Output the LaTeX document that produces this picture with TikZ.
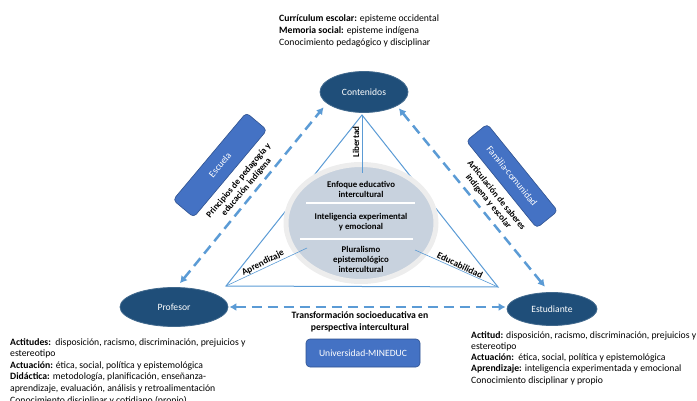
\documentclass[tikz,border=0pt]{standalone}
\usepackage{fontspec}
\setmainfont{Carlito}
\usetikzlibrary{shapes.geometric,arrows.meta}
\definecolor{azulosc}{HTML}{1F4E79}
\definecolor{azulclaro}{HTML}{5B9BD5}
\definecolor{azulcaja}{HTML}{4472C4}
\definecolor{bordecaja}{HTML}{2F528F}
\definecolor{grisazul}{HTML}{C8D2DE}

\begin{document}
\begin{tikzpicture}[x=1pt,y=-1pt,
  polo/.style={ellipse,fill=azulosc,draw=azulosc!85!white,line width=0.8pt,text=white,font=\fontsize{9.6}{11}\selectfont},
  caja/.style={rectangle,rounded corners=4pt,fill=azulcaja,draw=bordecaja,line width=0.6pt,text=white,font=\fontsize{9.6}{11}\selectfont},
  flecha/.style={azulclaro,line width=2.5pt,dash pattern=on 10pt off 6pt,{Latex[length=7pt,width=8pt]}-{Latex[length=7pt,width=8pt]}},
  lado/.style={azulclaro,line width=1pt},
  rayo/.style={azulclaro,line width=0.6pt},
  negrita/.style={font=\fontsize{8.8}{10}\selectfont\bfseries,align=center,inner sep=0pt},
  rotulo/.style={font=\fontsize{9}{10.2}\selectfont\bfseries,align=center,inner sep=0pt},
  lista/.style={align=left,anchor=north west,inner sep=0pt}]
\useasboundingbox (0,0) rectangle (697,401);
\clip (0,0) rectangle (697,401);
%Triangulo
\coordinate (vA) at (362,115);
\coordinate (vB) at (226,286);
\coordinate (vC) at (498,287);
\draw[lado] (vA) -- (vB) -- (vC) -- cycle;
%Elipse central
\node[ellipse,fill=grisazul,draw=gray!14,line width=5pt,minimum width=150,minimum height=117] (enf) at (361,223) {};
\draw[white,line width=2pt] (306,203) -- (415,203);
\draw[white,line width=2pt] (300,239) -- (413,239);
\node[negrita] (t1) at (361,189) {Enfoque educativo\\intercultural};
\node[negrita] (t2) at (361,222) {Inteligencia experimental\\y emocional};
\node[negrita] (t3) at (361,259) {Pluralismo\\epistemológico\\intercultural};
\coordinate (pLib) at (362,173);
\coordinate (pApr) at (307,248);
\coordinate (pEdu) at (415,250);
\draw[rayo] (vA) -- (pLib);
\draw[rayo] (vB) -- (pApr);
\draw[rayo] (pEdu) -- (vC);
\node[negrita,font=\fontsize{9}{10}\selectfont\bfseries,rotate=90] (lib) at (356,142) {Libertad};
\node[negrita,font=\fontsize{9.3}{10}\selectfont\bfseries,rotate=27] (apr) at (263,263) {Aprendizaje};
\node[negrita,font=\fontsize{9.3}{10}\selectfont\bfseries,rotate=-26] (edu) at (460,265) {Educabilidad};
%Polos
\node[polo,minimum width=88,minimum height=41] (cont) at (364,92) {Contenidos};
\node[polo,minimum width=108,minimum height=39] (prof) at (174,307) {Profesor};
\node[polo,minimum width=90,minimum height=33] (est) at (552,309) {Estudiante};
\draw[flecha,shorten <=5pt,shorten >=5pt] (prof.82) -- (cont.197);
\draw[flecha,shorten <=3pt,shorten >=7pt] (cont.337) -- (est.99);
\draw[flecha,shorten <=1pt,shorten >=1pt] (prof.east) -- (est.west |- prof.east);
%Cajas
\node[caja,rotate=50,minimum width=114,minimum height=27] (esc) at (220,165) {Escuela};
\node[caja,rotate=-51,minimum width=112,minimum height=27] (fam) at (512,176) {Familia-comunidad};
\node[caja,minimum width=114,minimum height=28] (uni) at (363,353) {Universidad-MINEDUC};
\node[rotulo,rotate=50] (princ) at (242.6,184) {Principios de pedagogía y\\educación indígena};
\node[rotulo,rotate=-51] (artic) at (492.3,198.5) {Articulación de saberes\\indígena y escolar};
\node[rotulo,font=\fontsize{9.7}{12}\selectfont\bfseries] (trans) at (360,322) {Transformación socioeducativa en\\perspectiva intercultural};
%Text
\node[lista,font=\fontsize{9.7}{12}\selectfont] (curr) at (279,14) {\textbf{Currículum escolar:} episteme occidental\\
  \textbf{Memoria social:} episteme indígena\\
  Conocimiento pedagógico y disciplinar};
\node[lista,font=\fontsize{9.7}{11.6}\selectfont] (dprof) at (10,338) {\textbf{Actitudes:}\ \ disposición, racismo, discriminación, prejuicios y\\
  estereotipo\\
  \textbf{Actuación:} ética, social, política y epistemológica\\
  \textbf{Didáctica:} metodología, planificación, enseñanza-\\
  aprendizaje, evaluación, análisis y retroalimentación\\
  Conocimiento disciplinar y cotidiano (propio)};
\node[lista,font=\fontsize{9.7}{11.3}\selectfont] (dest) at (471,331) {\textbf{Actitud:} disposición, racismo, discriminación, prejuicios y\\
  estereotipo\\
  \textbf{Actuación:}\ \ ética, social, política y epistemológica\\
  \textbf{Aprendizaje:} inteligencia experimentada y emocional\\
  Conocimiento disciplinar y propio};
\end{tikzpicture}
\end{document}
